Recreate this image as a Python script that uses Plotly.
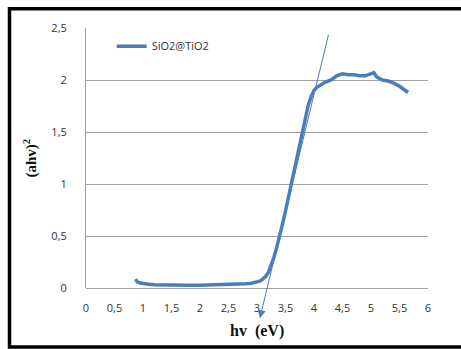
import plotly.graph_objects as go

hv = [0.87, 0.9, 0.95, 1.0, 1.1, 1.2, 1.4, 1.6, 1.8, 2.0, 2.2, 2.4, 2.6, 2.8, 2.9, 3.0, 3.05, 3.1, 3.15, 3.2, 3.25,
      3.3, 3.35, 3.4, 3.45, 3.5, 3.55, 3.6, 3.65, 3.7, 3.75, 3.8, 3.85, 3.9, 3.95, 4.0, 4.05, 4.1, 4.15, 4.2,
      4.3, 4.4, 4.5, 4.6, 4.7, 4.8, 4.9, 5.0, 5.05, 5.1, 5.2, 5.3, 5.4, 5.5, 5.6, 5.65]
ahv2 = [0.085, 0.06, 0.048, 0.042, 0.036, 0.032, 0.028, 0.026, 0.026, 0.027, 0.029, 0.032, 0.036, 0.042, 0.046, 0.055, 0.065, 0.085, 0.11, 0.15, 0.22,
        0.3, 0.4, 0.5, 0.62, 0.74, 0.87, 0.98, 1.09, 1.22, 1.36, 1.5, 1.64, 1.76, 1.84, 1.9, 1.93, 1.95, 1.97, 1.98,
        2.0, 2.04, 2.06, 2.05, 2.05, 2.04, 2.04, 2.06, 2.07, 2.03, 2.0, 1.99, 1.97, 1.94, 1.9, 1.88]

series_name = "SiO2@TiO2"
x_ticks = [0, 0.5, 1, 1.5, 2, 2.5, 3, 3.5, 4, 4.5, 5, 5.5, 6]
y_ticks = [0, 0.5, 1, 1.5, 2, 2.5]
tangent_top = (4.26, 2.45)
tangent_bottom = (3.05, -0.29)

blue = "#4a7ebb"
fig = go.Figure()
fig.add_trace(go.Scatter(x=hv, y=ahv2, mode="lines", name=series_name,
                         line=dict(color=blue, width=3.5), showlegend=True))

fig.add_annotation(x=tangent_bottom[0], y=tangent_bottom[1], ax=tangent_top[0], ay=tangent_top[1],
                   xref="x", yref="y", axref="x", ayref="y", text="", showarrow=True,
                   arrowhead=2, arrowsize=1.6, arrowwidth=1, arrowcolor=blue)

fig.add_annotation(x=0.5, y=-0.165, xref="paper", yref="paper", text="<b>hv  (eV)</b>", showarrow=False,
                   font=dict(family="Liberation Serif", size=16, color="#111"), xanchor="center", yanchor="middle")
fig.add_annotation(x=-0.165, y=0.5, xref="paper", yref="paper", text="<b>(ahv)<sup>2</sup></b>", showarrow=False,
                   textangle=-90, font=dict(family="Liberation Serif", size=15, color="#111"),
                   xanchor="center", yanchor="middle")

# outer frame
fig.add_shape(type="rect", xref="paper", yref="paper", x0=-0.2237, x1=1.2, y0=-0.2269, y1=1.0738,
              line=dict(color="black", width=3.5), fillcolor="rgba(0,0,0,0)", layer="below")

fig.update_layout(
    width=461, height=349,
    margin=dict(l=86, r=33, t=28, b=61),
    paper_bgcolor="white", plot_bgcolor="white",
    separators=", ",
    font=dict(family="Open Sans", size=11, color="#333"),
    xaxis=dict(range=[0, 6], tickvals=x_ticks, showgrid=False, zeroline=False,
               showline=False, ticks="", ticklabelstandoff=12,
               tickfont=dict(family="Open Sans", size=11, color="#333")),
    yaxis=dict(range=[0, 2.5], tickvals=y_ticks, showgrid=True, gridcolor="#a0a0a0", gridwidth=1,
               zeroline=True, zerolinecolor="#a0a0a0", zerolinewidth=1,
               showline=True, linecolor="#a0a0a0", linewidth=1, ticks="", ticklabelstandoff=16,
               tickfont=dict(family="Open Sans", size=11, color="#333")),
    legend=dict(x=0.075, y=0.93, xanchor="left", yanchor="middle", bgcolor="rgba(0,0,0,0)",
                font=dict(family="Open Sans", size=11, color="#333")),
    showlegend=True,
)

fig.write_html("out.html", config={"displayModeBar": False},
               post_script="document.body.style.margin='0';document.documentElement.style.overflow='hidden';")
